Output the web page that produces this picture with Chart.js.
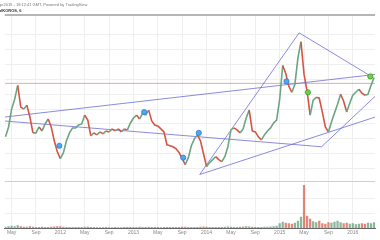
<!DOCTYPE html>
<html>
<head>
<meta charset="utf-8">
<script src="https://cdn.jsdelivr.net/npm/chart.js@4/dist/chart.umd.min.js"></script>
<style>
  body { margin: 0; background: #fff; }
  #wrap { position: relative; width: 380px; height: 240px; overflow: hidden; font-family: Arial, "Liberation Sans", sans-serif; }
  #chart { position: absolute; left: 0; top: 0; }
  .hdr { position: absolute; left: -1px; white-space: nowrap; font-size: 4px; line-height: 5px; }
  #h1 { top: 2px; color: #777; }
  #h2 { top: 8px; color: #333; font-weight: bold; }
</style>
</head>
<body>
<div id="wrap">
  <canvas id="chart" width="380" height="240"></canvas>
  <div class="hdr" id="h1">ge2019 - 18:12:41 GMT, Powered by TradingView</div>
  <div class="hdr" id="h2">alKOROS, 6</div>
</div>
<script>
// time axis in months since Jan 2011, one close every half month
let startMonth = 3;
let step = 0.5;

let closes = [
  1220, 1320, 1500, 1600, 1740, 1520, 1500, 1540, 1420, 1260,
  1260, 1320, 1280, 1350, 1400, 1320, 1180, 1070, 1000, 1060,
  1180, 1260, 1310, 1310, 1340, 1350, 1440, 1390, 1230, 1260,
  1240, 1270, 1250, 1280, 1270, 1300, 1280, 1300, 1270, 1300,
  1290, 1360, 1410, 1440, 1400, 1460, 1440, 1490, 1380, 1340,
  1330, 1300, 1270, 1140, 1130, 1120, 1100, 1060, 1000, 940,
  1010, 1130, 1200, 1240, 1180, 1050, 920, 960, 990, 1020,
  990, 970, 1020, 1120, 1290, 1310, 1290, 1260, 1300, 1410,
  1490, 1280, 1270, 1220, 1190, 1240, 1280, 1310, 1360, 1390,
  1600, 1940, 1860, 1730, 1670, 1750, 2020, 2180, 1850, 1680,
  1440, 1590, 1620, 1610, 1470, 1320, 1270, 1370, 1460, 1550,
  1650, 1580, 1470, 1560, 1640, 1670, 1700, 1660, 1640, 1650,
  1740, 1820
];

let volumes = [
  10, 15, 20, 15, 25, 15, 10, 10, 15, 10,
  8, 8, 10, 8, 8, 10, 12, 15, 15, 10,
  8, 8, 6, 6, 8, 8, 10, 10, 8, 6,
  5, 5, 5, 6, 5, 5, 6, 5, 5, 6,
  6, 8, 8, 8, 10, 8, 8, 10, 8, 6,
  6, 5, 6, 8, 8, 6, 6, 8, 10, 10,
  8, 8, 6, 8, 10, 12, 10, 8, 8, 6,
  6, 8, 10, 12, 10, 8, 8, 10, 12, 14,
  12, 10, 8, 8, 8, 10, 10, 12, 14, 20,
  45, 60, 50, 45, 40, 50, 70, 110, 430, 120,
  90, 65, 55, 70, 45, 40, 55, 50, 60, 70,
  55, 45, 50, 40, 45, 35, 40, 45, 40, 50,
  45, 55
];

// drawn studies: [month, price] points
let trendUpper = [[2.88, 1420], [63.68, 1850]];
let trendFalling = [[2.88, 1380], [54.88, 1120], [63.68, 1630]];
let trendWedge = [[34.88, 840], [51.2, 2270], [63.04, 1830]];
let trendRising = [[34.88, 840], [63.68, 1420]];
let priceLine = [[2.88, 1760], [63.68, 1760]];

let blueMarks = [[11.84, 1130], [25.76, 1470], [32.16, 1010], [34.72, 1260], [49.12, 1780]];
let greenMarks = [[52.64, 1670], [62.88, 1830]];

let monthNames = ['May', 'Sep'];
let firstYear = 2011;
let paneSplit = 770;

let upColor = '#6ba583';
let downColor = '#d75442';

let months = closes.map((c, i) => startMonth + i * step);
let pts = arr => arr.map(p => ({x: p[0], y: p[1]}));
let isUp = i => i === 0 || closes[i] >= closes[i - 1];

function trend(data) {
    return {
        type: 'line',
        data: pts(data),
        borderColor: 'rgba(110,110,215,0.8)',
        borderWidth: 1,
        pointRadius: 0,
        yAxisID: 'y'
    };
}

let ctx = document.getElementById('chart').getContext('2d');
let chart = new Chart(ctx, {
    type: 'line',
    data: {
        datasets: [
            {
                type: 'scatter',
                data: pts(blueMarks),
                pointRadius: 2.6,
                backgroundColor: '#4aa9f2',
                borderColor: '#2a7fd0',
                borderWidth: 0.8,
                yAxisID: 'y'
            },
            {
                type: 'scatter',
                data: pts(greenMarks),
                pointRadius: 2.6,
                backgroundColor: '#6fd14a',
                borderColor: '#3b9a2a',
                borderWidth: 0.8,
                yAxisID: 'y'
            },
            {
                type: 'line',
                data: months.map((m, i) => ({x: m, y: closes[i]})),
                borderWidth: 1.6,
                pointRadius: 0,
                segment: {
                    borderColor: c => c.p1.parsed.y >= c.p0.parsed.y ? upColor : downColor
                },
                yAxisID: 'y'
            },
            trend(trendUpper),
            trend(trendFalling),
            trend(trendWedge),
            trend(trendRising),
            {
                type: 'line',
                data: pts(priceLine),
                borderColor: 'rgba(240,130,130,0.75)',
                borderWidth: 1,
                pointRadius: 0,
                yAxisID: 'y'
            },
            {
                type: 'bar',
                data: months.map((m, i) => ({x: m, y: volumes[i]})),
                backgroundColor: volumes.map((v, i) => isUp(i) ? 'rgba(107,165,131,0.8)' : 'rgba(215,84,66,0.7)'),
                barThickness: 1.6,
                yAxisID: 'yv'
            }
        ]
    },
    options: {
        responsive: false,
        animation: false,
        layout: {padding: {top: 15, bottom: 2, left: 0, right: 0}},
        plugins: {legend: {display: false}, tooltip: {enabled: false}},
        scales: {
            x: {
                type: 'linear',
                min: 2.88,
                max: 63.68,
                offset: false,
                border: {color: '#666', width: 1},
                grid: {color: '#efefef', drawTicks: false, offset: false},
                ticks: {
                    stepSize: 4,
                    includeBounds: false,
                    autoSkip: false,
                    maxRotation: 0,
                    padding: 2,
                    color: '#888',
                    font: {size: 5, family: 'Arial'},
                    callback: v => {
                        let m = Math.round(v) % 12;
                        if (m === 0) return String(firstYear + Math.round(v) / 12);
                        return m === 4 ? monthNames[0] : monthNames[1];
                    }
                }
            },
            y: {
                type: 'linear',
                position: 'right',
                min: 300,
                max: 2450,
                border: {display: false},
                grid: {
                    drawTicks: false,
                    color: c => c.tick.value === 2450 ? '#b5b5b5' : (c.tick.value === paneSplit ? '#cfcfcf' : '#efefef'),
                    lineWidth: c => c.tick.value === 2450 ? 2 : 1
                },
                ticks: {display: false, stepSize: 150},
                afterBuildTicks: s => {
                    s.ticks = s.ticks.filter(t => t.value !== 750);
                    s.ticks.push({value: paneSplit});
                }
            },
            yv: {
                type: 'linear',
                display: false,
                min: 0,
                max: 2150
            }
        }
    }
});
</script>
</body>
</html>
